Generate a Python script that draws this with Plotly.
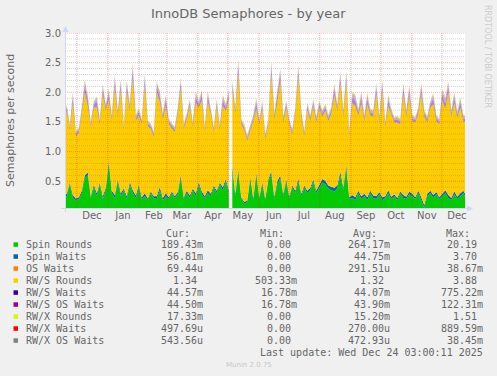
import numpy as np
import pandas as pd
import plotly.graph_objects as go

W, H = 497, 376
ML, MR, MT, MB = 65, 32, 33, 168
PW, PH = W - ML - MR, H - MT - MB

X_START, X_END = "2024-11-19 03:00", "2025-12-24 03:00"
Y_MIN, Y_MAX = 0.05, 3.0

# sample dates (3-day consolidation), data gap around 2025-05-02..05
dates_a = pd.date_range(end="2025-05-01 22:00", periods=56, freq="3D")
dates_b = pd.date_range(start="2025-05-05 10:00", periods=79, freq="3D")

# ---------------- series values ----------------
spin_rounds_a = [0.22,0.25,0.45,0.22,0.18,0.20,0.30,0.55,0.60,0.22, 0.40,0.25,0.45,0.20,0.35,0.80,0.30,0.22,0.50,0.25,
                 0.35,0.20,0.45,0.30,0.22,0.40,0.20,0.25,0.18,0.30, 0.22,0.20,0.35,0.18,0.25,0.20,0.30,0.22,0.28,0.55,
                 0.20,0.30,0.22,0.35,0.25,0.45,0.28,0.22,0.30,0.25, 0.40,0.30,0.45,0.35,0.50,0.30]
spin_rounds_b = [0.70,0.25,0.65,0.20,0.12,0.15,0.55,0.18,0.60,0.20, 0.45,0.18,0.50,0.62,0.20,0.45,0.55,0.25,0.50,0.22,
                 0.40,0.30,0.50,0.25,0.40,0.30,0.35,0.50,0.30,0.40, 0.48,0.45,0.38,0.35,0.33,0.38,0.60,0.35,0.72,0.20,
                 0.22,0.18,0.30,0.20,0.25,0.18,0.30,0.22,0.20,0.28, 0.18,0.22,0.30,0.20,0.25,0.18,0.30,0.22,0.20,0.28,
                 0.25,0.20,0.30,0.18,0.06,0.25,0.30,0.22,0.28,0.20, 0.25,0.30,0.22,0.18,0.28,0.20,0.25,0.30,0.22]

spin_waits_a = [.03,.04,.03,.05,.03,.03,.04,.05,.05,.03, .04,.05,.03,.05,.04,.05,.04,.05,.04,.05,
                .03,.05,.04,.05,.04,.04,.03,.05,.03,.03, .03,.05,.05,.04,.05,.03,.03,.03,.04,.05,
                .03,.04,.04,.03,.05,.04,.05,.03,.05,.04, .03,.04,.03,.05,.04,.05]
spin_waits_b = [.05,.04,.05,.03,.03,.03,.03,.04,.05,.03, .04,.03,.03,.05,.04,.05,.05,.04,.04,.03,
                .03,.04,.05,.04,.03,.04,.04,.04,.04,.04, .06,.06,.05,.06,.06,.05,.06,.05,.06,.03,
                .05,.05,.04,.05,.04,.05,.04,.04,.05,.04, .05,.03,.05,.04,.03,.04,.03,.05,.04,.05,
                .04,.03,.04,.05,.04,.04,.04,.05,.04,.03, .05,.05,.05,.04,.05,.04,.05,.04,.04]

os_waits_u_a = [310,280,260,350,240,270,300,330,360,250, 290,340,260,380,300,320,280,360,270,350,
                250,370,290,400,280,300,240,380,260,250, 240,360,330,290,340,250,260,240,300,370,
                250,290,310,260,330,280,320,250,330,290, 240,300,250,340,290,330]
os_waits_u_b = [360,280,420,250,240,230,260,290,340,250, 290,230,250,410,280,330,390,270,300,250,
                240,290,400,280,240,300,280,320,290,310, 300,320,290,310,380,320,400,300,390,240,
                330,320,290,330,280,330,290,290,350,280, 350,250,330,290,260,280,250,350,290,340,
                280,260,300,350,290,280,310,330,280,260, 340,320,350,290,330,290,320,280,290]

rws_rounds_a = [1.20,1.40,0.88,1.55,1.05,1.08,1.30,1.40,1.12,1.16, 1.30,1.45,0.98,1.72,1.30,1.02,1.17,1.82,1.05,1.74,
                0.98,1.77,1.20,1.89,1.25,1.17,1.23,1.82,1.22,1.05, 1.00,1.75,1.44,1.32,1.47,1.23,1.06,1.08,1.32,1.46,
                1.15,1.20,1.51,1.03,1.52,1.25,1.53,1.08,1.49,1.35, 0.90,1.43,0.88,1.37,1.15,1.52]
rws_rounds_b = [1.27,1.35,1.62,1.23,1.21,1.01,0.78,1.29,1.07,1.23, 1.25,1.00,0.93,1.63,1.30,1.32,1.60,1.20,1.20,1.21,
                0.86,1.30,1.71,1.30,0.83,1.37,1.12,1.23,1.15,1.30, 1.05,1.18,1.08,1.23,1.56,1.26,1.49,1.19,1.39,1.03,
                1.55,1.54,1.27,1.57,1.22,1.57,1.27,1.33,1.72,1.17, 1.79,1.16,1.42,1.37,1.21,1.27,1.13,1.70,1.35,1.61,
                1.22,1.26,1.30,1.74,1.49,1.20,1.40,1.53,1.19,1.23, 1.57,1.37,1.73,1.37,1.49,1.33,1.44,1.17,1.23]

rws_waits_a = [.04,.05,.04,.09,.04,.04,.05,.11,.09,.04, .05,.09,.04,.08,.05,.09,.05,.10,.05,.09,
               .04,.09,.05,.12,.05,.05,.04,.10,.04,.04, .04,.09,.09,.05,.09,.04,.04,.04,.05,.09,
               .04,.05,.05,.04,.09,.05,.09,.04,.09,.05, .04,.05,.04,.09,.05,.09]
rws_waits_b = [.09,.05,.12,.04,.04,.04,.04,.05,.09,.04, .05,.04,.04,.11,.05,.09,.10,.05,.05,.04,
               .04,.05,.10,.05,.04,.05,.05,.05,.05,.05, .05,.05,.05,.05,.09,.05,.09,.05,.09,.04,
               .09,.09,.05,.09,.05,.09,.05,.05,.09,.05, .09,.04,.09,.05,.04,.05,.04,.09,.05,.09,
               .05,.04,.05,.09,.05,.05,.05,.09,.05,.04, .09,.09,.09,.05,.09,.05,.09,.05,.05]

rws_os_waits_a = [.04,.05,.04,.08,.04,.04,.05,.09,.08,.04, .05,.08,.04,.07,.05,.08,.05,.09,.05,.08,
                  .04,.08,.05,.10,.05,.05,.04,.09,.04,.04, .04,.08,.08,.05,.08,.04,.04,.04,.05,.08,
                  .04,.05,.05,.04,.08,.05,.08,.04,.08,.05, .04,.05,.04,.08,.05,.08]
rws_os_waits_b = [.08,.05,.11,.04,.04,.04,.04,.05,.08,.04, .05,.04,.04,.10,.05,.08,.09,.05,.05,.04,
                  .04,.05,.09,.05,.04,.05,.05,.05,.05,.05, .05,.05,.05,.05,.08,.05,.08,.05,.08,.04,
                  .08,.08,.05,.08,.05,.08,.05,.05,.08,.05, .08,.04,.08,.05,.04,.05,.04,.08,.05,.08,
                  .05,.04,.05,.08,.05,.05,.05,.08,.05,.04, .08,.08,.08,.05,.08,.05,.08,.05,.05]

rwx_rounds_m_a = [15,14,16,13,15,17,14,16,18,15, 14,13,15,16,14,17,15,13,16,15, 14,16,15,18,14,15,13,16,15,14,
                  15,17,16,14,15,13,14,15,16,18, 14,15,16,13,17,15,16,14,15,16, 14,15,13,16,15,17]
rwx_rounds_m_b = [16,14,18,13,15,14,13,15,17,14, 15,13,14,18,15,16,17,14,15,14, 13,15,18,14,13,15,14,16,15,16,
                  15,16,14,15,17,15,18,14,17,13, 16,16,15,17,14,16,15,15,17,14, 17,13,16,15,14,15,13,17,15,16,
                  14,13,15,17,15,14,16,17,14,13, 16,16,17,15,16,15,16,14,15]

rwx_waits_u_a = [250,270,240,320,230,250,280,300,330,240, 270,310,250,340,280,300,260,330,250,320,
                 240,340,270,360,260,280,230,350,250,240, 230,330,300,270,310,240,250,230,280,340,
                 240,270,290,250,300,260,290,240,300,270, 230,280,240,310,270,300]
rwx_waits_u_b = [330,260,380,240,230,220,250,270,310,240, 270,220,240,370,260,300,350,250,280,240,
                 230,270,360,260,230,280,260,290,270,280, 280,300,270,290,340,300,360,280,350,230,
                 300,290,270,300,260,300,270,270,320,260, 320,240,300,270,250,260,240,320,270,310,
                 260,250,280,320,270,260,290,300,260,250, 310,300,320,270,300,270,290,260,270]

rwx_os_waits_u_a = [450,490,430,560,420,440,480,540,580,430, 470,550,440,600,480,530,460,580,450,560,
                    420,590,470,620,450,490,410,610,440,430, 410,580,530,470,540,420,440,410,490,590,
                    420,470,500,440,530,460,510,420,520,470, 410,490,420,550,470,530]
rwx_os_waits_u_b = [580,460,640,430,420,400,440,480,540,430, 470,400,430,630,460,520,600,450,490,430,
                    410,470,620,460,410,490,460,510,470,490, 480,520,470,500,580,510,610,490,600,410,
                    530,510,470,530,460,520,470,470,550,460, 550,430,520,470,440,460,430,550,470,530,
                    460,440,490,550,470,460,500,530,460,440, 540,520,560,470,530,470,510,460,470]

# legend table (text as printed by munin)
names = ["Spin Rounds", "Spin Waits", "OS Waits", "RW/S Rounds", "RW/S Waits",
         "RW/S OS Waits", "RW/X Rounds", "RW/X Waits", "RW/X OS Waits"]
colors = ["#00CC00", "#0066B3", "#FF8000", "#FFCC00", "#330099",
          "#990099", "#CCFF00", "#FF0000", "#808080"]
fills = ["#00CC00", "#0066B3", "#FF8000", "#FFCC00", "rgba(51,0,153,0.45)",
         "rgba(153,0,153,0.35)", "#CCFF00", "#FF0000", "#808080"]
cur_vals = ["189.43m", "56.81m", "69.44u", "1.34", "44.57m", "44.50m", "17.33m", "497.69u", "543.56u"]
min_vals = ["0.00", "0.00", "0.00", "503.33m", "16.78m", "16.78m", "0.00", "0.00", "0.00"]
avg_vals = ["264.17m", "44.75m", "291.51u", "1.32", "44.07m", "43.90m", "15.20m", "270.00u", "472.93u"]
max_vals = ["20.19", "3.70", "38.67m", "3.88", "775.22m", "122.31m", "1.51", "889.59m", "38.45m"]
col_heads = ["Cur:", "Min:", "Avg:", "Max:"]

y_tick_vals = [0.5, 1.0, 1.5, 2.0, 2.5, 3.0]

series_a = [spin_rounds_a, spin_waits_a, np.array(os_waits_u_a) * 1e-6, rws_rounds_a, rws_waits_a,
            rws_os_waits_a, np.array(rwx_rounds_m_a) * 1e-3, np.array(rwx_waits_u_a) * 1e-6,
            np.array(rwx_os_waits_u_a) * 1e-6]
series_b = [spin_rounds_b, spin_waits_b, np.array(os_waits_u_b) * 1e-6, rws_rounds_b, rws_waits_b,
            rws_os_waits_b, np.array(rwx_rounds_m_b) * 1e-3, np.array(rwx_waits_u_b) * 1e-6,
            np.array(rwx_os_waits_u_b) * 1e-6]

FONT = "DejaVu Sans"
MONO = "DejaVu Sans Mono"
FC = "#666666"

fig = go.Figure()
for grp, dts, ser in (("a", dates_a, series_a), ("b", dates_b, series_b)):
    for name, fc, vals in zip(names, fills, ser):
        fig.add_trace(go.Scatter(
            x=dts, y=np.asarray(vals, dtype=float), mode="lines", stackgroup=grp,
            line=dict(width=0), fillcolor=fc, name=name, showlegend=False,
            hoverinfo="skip"))

def px2x(px):
    return (px - ML) / PW

def py2y(py):
    return (H - MB - py) / PH

shapes = []
# grid on top of the graph (rrdtool style)
for i in range(1, 31):
    v = i / 10
    major = (i % 5 == 0)
    shapes.append(dict(type="line", xref="paper", yref="y", x0=0, x1=1, y0=v, y1=v,
                       line=dict(color="rgba(255,0,0,0.32)" if major else "rgba(130,130,130,0.35)",
                                 width=1, dash="1px,1px"), layer="above"))
for d in pd.date_range("2024-12-01", "2025-12-01", freq="MS"):
    shapes.append(dict(type="line", xref="x", yref="paper", x0=d, x1=d, y0=0, y1=1,
                       line=dict(color="rgba(255,0,0,0.32)", width=1, dash="1px,1px"), layer="above"))
AX = "#CFD6F8"
shapes.append(dict(type="line", xref="paper", yref="paper", x0=px2x(61), x1=px2x(468),
                   y0=py2y(208.5), y1=py2y(208.5), line=dict(color=AX, width=1), layer="above"))
shapes.append(dict(type="line", xref="paper", yref="paper", x0=px2x(65.5), x1=px2x(65.5),
                   y0=py2y(212), y1=py2y(30), line=dict(color=AX, width=1), layer="above"))
shapes.append(dict(type="path", xref="paper", yref="paper",
                   path=f"M {px2x(467)},{py2y(205.5)} L {px2x(473)},{py2y(208.5)} L {px2x(467)},{py2y(211.5)} Z",
                   fillcolor=AX, line=dict(width=0), layer="above"))
shapes.append(dict(type="path", xref="paper", yref="paper",
                   path=f"M {px2x(62.5)},{py2y(32)} L {px2x(65.5)},{py2y(26)} L {px2x(68.5)},{py2y(32)} Z",
                   fillcolor=AX, line=dict(width=0), layer="above"))

ann = []
def text(px, py, s, size, color=FC, family=FONT, xanchor="left", angle=0):
    ann.append(dict(xref="paper", yref="paper", x=px2x(px), y=py2y(py), text=s,
                    showarrow=False, xanchor=xanchor, yanchor="middle", textangle=angle,
                    font=dict(family=family, size=size, color=color)))

text(248.5, 13.5, "InnoDB Semaphores - by year", 13, xanchor="center")
text(10, 120, "Semaphores per second", 11, xanchor="center", angle=-90)
text(488, 56, "RRDTOOL / TOBI OETIKER", 8, color="#CCCCCC", xanchor="center", angle=90)

head_right = [192, 286, 379, 472]
val_right = [205, 299, 392, 485]
for h, xr in zip(col_heads, head_right):
    text(xr, 233.5, h, 10, family=MONO, xanchor="right")
for i, nm in enumerate(names):
    yc = 244.6 + 12 * i
    shapes.append(dict(type="rect", xref="paper", yref="paper",
                       x0=px2x(13.5), x1=px2x(18), y0=py2y(yc - 2.3), y1=py2y(yc + 2.2),
                       fillcolor=colors[i], line=dict(width=0)))
    text(24, yc, nm, 10, family=MONO)
    for vals, xr in zip((cur_vals, min_vals, avg_vals, max_vals), val_right):
        s = vals[i]
        xx = xr if not s[-1].isdigit() else xr - 6.0
        text(xx, yc, s, 10, family=MONO, xanchor="right")
text(485, 352.3, "Last update: Wed Dec 24 03:00:11 2025", 10, family=MONO, xanchor="right")
text(248.5, 365, "Munin 2.0.75", 7, color="#C8C8C8", xanchor="center")

month_labels = pd.date_range("2024-12-01", "2025-12-01", freq="MS") + pd.Timedelta(days=15)

fig.update_layout(
    width=W, height=H, margin=dict(l=ML, r=MR, t=MT, b=MB, pad=0),
    paper_bgcolor="#F0F0F0", plot_bgcolor="#FFFFFF", showlegend=False,
    shapes=shapes, annotations=ann,
    xaxis=dict(type="date", range=[X_START, X_END], tickvals=list(month_labels), tickformat="%b",
               showgrid=False, zeroline=False, showline=False, ticks="",
               tickfont=dict(family=FONT, size=10, color=FC), fixedrange=True),
    yaxis=dict(range=[Y_MIN, Y_MAX], tickvals=y_tick_vals, tickformat=".1f",
               showgrid=False, zeroline=False, showline=False, ticks="",
               ticklabelstandoff=3,
               tickfont=dict(family=FONT, size=10, color=FC), fixedrange=True),
)

fig.write_html("out.html", config=dict(displayModeBar=False),
               post_script="document.body.style.margin='0';document.body.style.background='#F0F0F0';")
